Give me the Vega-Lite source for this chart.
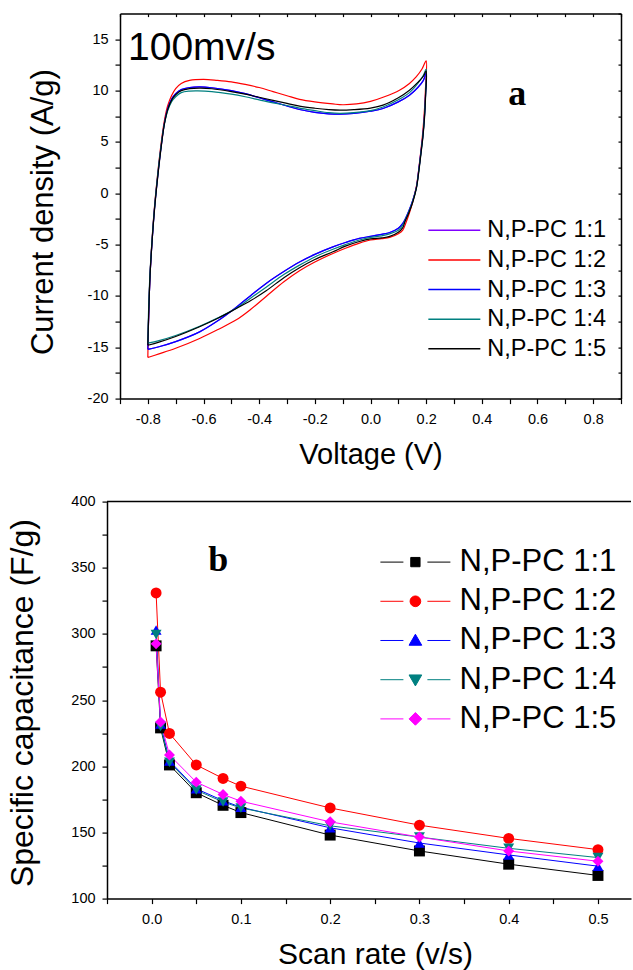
{
"$schema": "https://vega.github.io/schema/vega-lite/v6.json",
"background": "white",
"padding": {"left": 6, "top": 12.6, "right": 0, "bottom": 0},
"spacing": 24,
"bounds": "full",
"resolve": {"scale": {"color": "independent", "fill": "independent", "shape": "independent", "stroke": "independent"}, "legend": {"color": "independent", "fill": "independent", "shape": "independent", "stroke": "independent"}},
"config": {
  "font": "Liberation Sans",
  "view": {"stroke": null},
  "axis": {"grid": false, "domainColor": "black", "domainWidth": 1.5, "tickColor": "black", "tickWidth": 1.2, "labelColor": "black", "labelFontSize": 14.5, "labelFont": "Liberation Sans", "titleFont": "Liberation Sans", "titleFontWeight": "normal", "titleColor": "black", "labelFlush": false, "labelOverlap": false, "labelBound": false},
  "legend": {"labelFont": "Liberation Sans", "labelColor": "black"}
},
"vconcat": [
{
 "hconcat": [
 {
  "width": 13, "height": 20,
  "data": {"values": []},
  "mark": {"type": "point", "opacity": 0}
 },
 {
  "width": 501, "height": 385,
  "resolve": {"axis": {"x": "independent", "y": "independent"}},
  "layer": [
  {
    "data": {"values": [
{"s":"N,P-PC 1:1","v":-0.8,"c":-15.2},{"s":"N,P-PC 1:1","v":-0.797,"c":-12},{"s":"N,P-PC 1:1","v":-0.792,"c":-8},{"s":"N,P-PC 1:1","v":-0.785,"c":-4.8},{"s":"N,P-PC 1:1","v":-0.776,"c":-1.5},{"s":"N,P-PC 1:1","v":-0.764,"c":1.8},{"s":"N,P-PC 1:1","v":-0.752,"c":4.6},{"s":"N,P-PC 1:1","v":-0.74,"c":6.9},{"s":"N,P-PC 1:1","v":-0.728,"c":8.3},{"s":"N,P-PC 1:1","v":-0.714,"c":9.2},{"s":"N,P-PC 1:1","v":-0.7,"c":9.7},{"s":"N,P-PC 1:1","v":-0.68,"c":10.1},{"s":"N,P-PC 1:1","v":-0.65,"c":10.3},{"s":"N,P-PC 1:1","v":-0.614,"c":10.36},{"s":"N,P-PC 1:1","v":-0.57,"c":10.28},{"s":"N,P-PC 1:1","v":-0.5,"c":10},{"s":"N,P-PC 1:1","v":-0.45,"c":9.7},{"s":"N,P-PC 1:1","v":-0.4,"c":9.3},{"s":"N,P-PC 1:1","v":-0.35,"c":8.9},{"s":"N,P-PC 1:1","v":-0.3,"c":8.5},{"s":"N,P-PC 1:1","v":-0.255,"c":8.16},{"s":"N,P-PC 1:1","v":-0.2,"c":7.88},{"s":"N,P-PC 1:1","v":-0.15,"c":7.74},{"s":"N,P-PC 1:1","v":-0.11,"c":7.7},{"s":"N,P-PC 1:1","v":-0.06,"c":7.78},{"s":"N,P-PC 1:1","v":0,"c":8},{"s":"N,P-PC 1:1","v":0.045,"c":8.26},{"s":"N,P-PC 1:1","v":0.1,"c":8.9},{"s":"N,P-PC 1:1","v":0.14,"c":9.55},{"s":"N,P-PC 1:1","v":0.17,"c":10.3},{"s":"N,P-PC 1:1","v":0.19,"c":11},{"s":"N,P-PC 1:1","v":0.2,"c":11.7},
{"s":"N,P-PC 1:1","v":0.198,"c":9.8},{"s":"N,P-PC 1:1","v":0.194,"c":7.6},{"s":"N,P-PC 1:1","v":0.188,"c":5.6},{"s":"N,P-PC 1:1","v":0.182,"c":4.2},{"s":"N,P-PC 1:1","v":0.174,"c":2.4},{"s":"N,P-PC 1:1","v":0.165,"c":0.6},{"s":"N,P-PC 1:1","v":0.152,"c":-0.67},{"s":"N,P-PC 1:1","v":0.138,"c":-1.7},{"s":"N,P-PC 1:1","v":0.124,"c":-2.55},{"s":"N,P-PC 1:1","v":0.116,"c":-2.94},{"s":"N,P-PC 1:1","v":0.1,"c":-3.4},{"s":"N,P-PC 1:1","v":0.069,"c":-3.82},{"s":"N,P-PC 1:1","v":0.04,"c":-4},{"s":"N,P-PC 1:1","v":0,"c":-4.2},{"s":"N,P-PC 1:1","v":-0.04,"c":-4.4},{"s":"N,P-PC 1:1","v":-0.09,"c":-4.8},{"s":"N,P-PC 1:1","v":-0.135,"c":-5.22},{"s":"N,P-PC 1:1","v":-0.2,"c":-5.95},{"s":"N,P-PC 1:1","v":-0.255,"c":-6.7},{"s":"N,P-PC 1:1","v":-0.31,"c":-7.6},{"s":"N,P-PC 1:1","v":-0.375,"c":-8.78},{"s":"N,P-PC 1:1","v":-0.43,"c":-9.95},{"s":"N,P-PC 1:1","v":-0.482,"c":-11.1},{"s":"N,P-PC 1:1","v":-0.55,"c":-12.45},{"s":"N,P-PC 1:1","v":-0.614,"c":-13.5},{"s":"N,P-PC 1:1","v":-0.7,"c":-14.45},{"s":"N,P-PC 1:1","v":-0.76,"c":-14.95},{"s":"N,P-PC 1:1","v":-0.8,"c":-15.2},

{"s":"N,P-PC 1:2","v":-0.8,"c":-16},{"s":"N,P-PC 1:2","v":-0.798,"c":-13},{"s":"N,P-PC 1:2","v":-0.793,"c":-8.5},{"s":"N,P-PC 1:2","v":-0.786,"c":-5},{"s":"N,P-PC 1:2","v":-0.777,"c":-1.6},{"s":"N,P-PC 1:2","v":-0.765,"c":1.8},{"s":"N,P-PC 1:2","v":-0.753,"c":4.7},{"s":"N,P-PC 1:2","v":-0.741,"c":7},{"s":"N,P-PC 1:2","v":-0.729,"c":8.5},{"s":"N,P-PC 1:2","v":-0.715,"c":9.5},{"s":"N,P-PC 1:2","v":-0.7,"c":10.2},{"s":"N,P-PC 1:2","v":-0.68,"c":10.7},{"s":"N,P-PC 1:2","v":-0.65,"c":11},{"s":"N,P-PC 1:2","v":-0.6,"c":11.1},{"s":"N,P-PC 1:2","v":-0.55,"c":11},{"s":"N,P-PC 1:2","v":-0.5,"c":10.85},{"s":"N,P-PC 1:2","v":-0.45,"c":10.6},{"s":"N,P-PC 1:2","v":-0.4,"c":10.3},{"s":"N,P-PC 1:2","v":-0.35,"c":9.9},{"s":"N,P-PC 1:2","v":-0.3,"c":9.5},{"s":"N,P-PC 1:2","v":-0.255,"c":9.15},{"s":"N,P-PC 1:2","v":-0.2,"c":8.9},{"s":"N,P-PC 1:2","v":-0.135,"c":8.7},{"s":"N,P-PC 1:2","v":-0.1,"c":8.62},{"s":"N,P-PC 1:2","v":-0.05,"c":8.7},{"s":"N,P-PC 1:2","v":0,"c":8.95},{"s":"N,P-PC 1:2","v":0.05,"c":9.4},{"s":"N,P-PC 1:2","v":0.104,"c":10.04},{"s":"N,P-PC 1:2","v":0.14,"c":10.7},{"s":"N,P-PC 1:2","v":0.164,"c":11.33},{"s":"N,P-PC 1:2","v":0.185,"c":12.1},{"s":"N,P-PC 1:2","v":0.2,"c":12.9},
{"s":"N,P-PC 1:2","v":0.198,"c":10.5},{"s":"N,P-PC 1:2","v":0.194,"c":8.2},{"s":"N,P-PC 1:2","v":0.188,"c":6},{"s":"N,P-PC 1:2","v":0.182,"c":4.4},{"s":"N,P-PC 1:2","v":0.174,"c":2.5},{"s":"N,P-PC 1:2","v":0.165,"c":0.7},{"s":"N,P-PC 1:2","v":0.152,"c":-0.8},{"s":"N,P-PC 1:2","v":0.14,"c":-1.9},{"s":"N,P-PC 1:2","v":0.127,"c":-2.9},{"s":"N,P-PC 1:2","v":0.116,"c":-3.59},{"s":"N,P-PC 1:2","v":0.1,"c":-3.95},{"s":"N,P-PC 1:2","v":0.069,"c":-4.3},{"s":"N,P-PC 1:2","v":0.04,"c":-4.42},{"s":"N,P-PC 1:2","v":0,"c":-4.55},{"s":"N,P-PC 1:2","v":-0.04,"c":-4.85},{"s":"N,P-PC 1:2","v":-0.09,"c":-5.35},{"s":"N,P-PC 1:2","v":-0.135,"c":-5.86},{"s":"N,P-PC 1:2","v":-0.2,"c":-6.7},{"s":"N,P-PC 1:2","v":-0.255,"c":-7.55},{"s":"N,P-PC 1:2","v":-0.31,"c":-8.6},{"s":"N,P-PC 1:2","v":-0.375,"c":-10.05},{"s":"N,P-PC 1:2","v":-0.43,"c":-11.3},{"s":"N,P-PC 1:2","v":-0.482,"c":-12.33},{"s":"N,P-PC 1:2","v":-0.55,"c":-13.3},{"s":"N,P-PC 1:2","v":-0.614,"c":-14.14},{"s":"N,P-PC 1:2","v":-0.7,"c":-15.1},{"s":"N,P-PC 1:2","v":-0.76,"c":-15.65},{"s":"N,P-PC 1:2","v":-0.8,"c":-16},

{"s":"N,P-PC 1:3","v":-0.8,"c":-15.2},{"s":"N,P-PC 1:3","v":-0.797,"c":-12},{"s":"N,P-PC 1:3","v":-0.792,"c":-8},{"s":"N,P-PC 1:3","v":-0.785,"c":-4.8},{"s":"N,P-PC 1:3","v":-0.776,"c":-1.5},{"s":"N,P-PC 1:3","v":-0.764,"c":1.8},{"s":"N,P-PC 1:3","v":-0.752,"c":4.6},{"s":"N,P-PC 1:3","v":-0.74,"c":6.9},{"s":"N,P-PC 1:3","v":-0.728,"c":8.3},{"s":"N,P-PC 1:3","v":-0.714,"c":9.2},{"s":"N,P-PC 1:3","v":-0.7,"c":9.7},{"s":"N,P-PC 1:3","v":-0.68,"c":10.1},{"s":"N,P-PC 1:3","v":-0.65,"c":10.3},{"s":"N,P-PC 1:3","v":-0.614,"c":10.36},{"s":"N,P-PC 1:3","v":-0.57,"c":10.28},{"s":"N,P-PC 1:3","v":-0.5,"c":10},{"s":"N,P-PC 1:3","v":-0.45,"c":9.7},{"s":"N,P-PC 1:3","v":-0.4,"c":9.3},{"s":"N,P-PC 1:3","v":-0.35,"c":8.9},{"s":"N,P-PC 1:3","v":-0.3,"c":8.5},{"s":"N,P-PC 1:3","v":-0.255,"c":8.16},{"s":"N,P-PC 1:3","v":-0.2,"c":7.88},{"s":"N,P-PC 1:3","v":-0.15,"c":7.74},{"s":"N,P-PC 1:3","v":-0.11,"c":7.7},{"s":"N,P-PC 1:3","v":-0.06,"c":7.78},{"s":"N,P-PC 1:3","v":0,"c":8},{"s":"N,P-PC 1:3","v":0.045,"c":8.26},{"s":"N,P-PC 1:3","v":0.1,"c":8.9},{"s":"N,P-PC 1:3","v":0.14,"c":9.55},{"s":"N,P-PC 1:3","v":0.17,"c":10.3},{"s":"N,P-PC 1:3","v":0.19,"c":11},{"s":"N,P-PC 1:3","v":0.2,"c":11.7},
{"s":"N,P-PC 1:3","v":0.198,"c":9.8},{"s":"N,P-PC 1:3","v":0.194,"c":7.6},{"s":"N,P-PC 1:3","v":0.188,"c":5.6},{"s":"N,P-PC 1:3","v":0.182,"c":4.2},{"s":"N,P-PC 1:3","v":0.174,"c":2.4},{"s":"N,P-PC 1:3","v":0.165,"c":0.6},{"s":"N,P-PC 1:3","v":0.152,"c":-0.67},{"s":"N,P-PC 1:3","v":0.138,"c":-1.7},{"s":"N,P-PC 1:3","v":0.124,"c":-2.55},{"s":"N,P-PC 1:3","v":0.116,"c":-2.94},{"s":"N,P-PC 1:3","v":0.1,"c":-3.4},{"s":"N,P-PC 1:3","v":0.069,"c":-3.82},{"s":"N,P-PC 1:3","v":0.04,"c":-4},{"s":"N,P-PC 1:3","v":0,"c":-4.2},{"s":"N,P-PC 1:3","v":-0.04,"c":-4.4},{"s":"N,P-PC 1:3","v":-0.09,"c":-4.8},{"s":"N,P-PC 1:3","v":-0.135,"c":-5.22},{"s":"N,P-PC 1:3","v":-0.2,"c":-5.95},{"s":"N,P-PC 1:3","v":-0.255,"c":-6.7},{"s":"N,P-PC 1:3","v":-0.31,"c":-7.6},{"s":"N,P-PC 1:3","v":-0.375,"c":-8.78},{"s":"N,P-PC 1:3","v":-0.43,"c":-9.95},{"s":"N,P-PC 1:3","v":-0.482,"c":-11.1},{"s":"N,P-PC 1:3","v":-0.55,"c":-12.45},{"s":"N,P-PC 1:3","v":-0.614,"c":-13.5},{"s":"N,P-PC 1:3","v":-0.7,"c":-14.45},{"s":"N,P-PC 1:3","v":-0.76,"c":-14.95},{"s":"N,P-PC 1:3","v":-0.8,"c":-15.2},

{"s":"N,P-PC 1:4","v":-0.8,"c":-14.6},{"s":"N,P-PC 1:4","v":-0.798,"c":-12},{"s":"N,P-PC 1:4","v":-0.793,"c":-8.2},{"s":"N,P-PC 1:4","v":-0.786,"c":-5},{"s":"N,P-PC 1:4","v":-0.777,"c":-1.7},{"s":"N,P-PC 1:4","v":-0.765,"c":1.7},{"s":"N,P-PC 1:4","v":-0.753,"c":4.5},{"s":"N,P-PC 1:4","v":-0.741,"c":6.7},{"s":"N,P-PC 1:4","v":-0.729,"c":8},{"s":"N,P-PC 1:4","v":-0.715,"c":8.9},{"s":"N,P-PC 1:4","v":-0.7,"c":9.4},{"s":"N,P-PC 1:4","v":-0.68,"c":9.8},{"s":"N,P-PC 1:4","v":-0.65,"c":9.95},{"s":"N,P-PC 1:4","v":-0.62,"c":9.97},{"s":"N,P-PC 1:4","v":-0.57,"c":9.9},{"s":"N,P-PC 1:4","v":-0.5,"c":9.65},{"s":"N,P-PC 1:4","v":-0.45,"c":9.4},{"s":"N,P-PC 1:4","v":-0.4,"c":9.1},{"s":"N,P-PC 1:4","v":-0.35,"c":8.8},{"s":"N,P-PC 1:4","v":-0.3,"c":8.55},{"s":"N,P-PC 1:4","v":-0.255,"c":8.29},{"s":"N,P-PC 1:4","v":-0.2,"c":8.05},{"s":"N,P-PC 1:4","v":-0.15,"c":7.85},{"s":"N,P-PC 1:4","v":-0.11,"c":7.78},{"s":"N,P-PC 1:4","v":-0.06,"c":7.85},{"s":"N,P-PC 1:4","v":0,"c":8.05},{"s":"N,P-PC 1:4","v":0.045,"c":8.4},{"s":"N,P-PC 1:4","v":0.1,"c":9.1},{"s":"N,P-PC 1:4","v":0.14,"c":9.8},{"s":"N,P-PC 1:4","v":0.17,"c":10.7},{"s":"N,P-PC 1:4","v":0.19,"c":11.5},{"s":"N,P-PC 1:4","v":0.2,"c":12.1},
{"s":"N,P-PC 1:4","v":0.198,"c":9.7},{"s":"N,P-PC 1:4","v":0.194,"c":7.5},{"s":"N,P-PC 1:4","v":0.188,"c":5.5},{"s":"N,P-PC 1:4","v":0.182,"c":4.1},{"s":"N,P-PC 1:4","v":0.174,"c":2.3},{"s":"N,P-PC 1:4","v":0.165,"c":0.55},{"s":"N,P-PC 1:4","v":0.152,"c":-0.75},{"s":"N,P-PC 1:4","v":0.138,"c":-1.8},{"s":"N,P-PC 1:4","v":0.124,"c":-2.65},{"s":"N,P-PC 1:4","v":0.116,"c":-3.1},{"s":"N,P-PC 1:4","v":0.1,"c":-3.6},{"s":"N,P-PC 1:4","v":0.069,"c":-3.95},{"s":"N,P-PC 1:4","v":0.04,"c":-4.15},{"s":"N,P-PC 1:4","v":0,"c":-4.3},{"s":"N,P-PC 1:4","v":-0.04,"c":-4.55},{"s":"N,P-PC 1:4","v":-0.09,"c":-5},{"s":"N,P-PC 1:4","v":-0.135,"c":-5.45},{"s":"N,P-PC 1:4","v":-0.2,"c":-6.2},{"s":"N,P-PC 1:4","v":-0.255,"c":-7},{"s":"N,P-PC 1:4","v":-0.31,"c":-7.9},{"s":"N,P-PC 1:4","v":-0.375,"c":-9.15},{"s":"N,P-PC 1:4","v":-0.43,"c":-10.2},{"s":"N,P-PC 1:4","v":-0.482,"c":-11.2},{"s":"N,P-PC 1:4","v":-0.55,"c":-12.15},{"s":"N,P-PC 1:4","v":-0.614,"c":-12.95},{"s":"N,P-PC 1:4","v":-0.7,"c":-13.85},{"s":"N,P-PC 1:4","v":-0.76,"c":-14.35},{"s":"N,P-PC 1:4","v":-0.8,"c":-14.6},

{"s":"N,P-PC 1:5","v":-0.8,"c":-14.8},{"s":"N,P-PC 1:5","v":-0.797,"c":-11.8},{"s":"N,P-PC 1:5","v":-0.792,"c":-8},{"s":"N,P-PC 1:5","v":-0.785,"c":-4.8},{"s":"N,P-PC 1:5","v":-0.776,"c":-1.6},{"s":"N,P-PC 1:5","v":-0.764,"c":1.7},{"s":"N,P-PC 1:5","v":-0.752,"c":4.5},{"s":"N,P-PC 1:5","v":-0.74,"c":6.8},{"s":"N,P-PC 1:5","v":-0.728,"c":8.2},{"s":"N,P-PC 1:5","v":-0.714,"c":9.1},{"s":"N,P-PC 1:5","v":-0.7,"c":9.6},{"s":"N,P-PC 1:5","v":-0.68,"c":10},{"s":"N,P-PC 1:5","v":-0.65,"c":10.2},{"s":"N,P-PC 1:5","v":-0.61,"c":10.25},{"s":"N,P-PC 1:5","v":-0.57,"c":10.18},{"s":"N,P-PC 1:5","v":-0.5,"c":9.9},{"s":"N,P-PC 1:5","v":-0.45,"c":9.65},{"s":"N,P-PC 1:5","v":-0.4,"c":9.35},{"s":"N,P-PC 1:5","v":-0.35,"c":9.05},{"s":"N,P-PC 1:5","v":-0.3,"c":8.75},{"s":"N,P-PC 1:5","v":-0.255,"c":8.48},{"s":"N,P-PC 1:5","v":-0.2,"c":8.28},{"s":"N,P-PC 1:5","v":-0.15,"c":8.15},{"s":"N,P-PC 1:5","v":-0.11,"c":8.1},{"s":"N,P-PC 1:5","v":-0.06,"c":8.15},{"s":"N,P-PC 1:5","v":0,"c":8.3},{"s":"N,P-PC 1:5","v":0.045,"c":8.58},{"s":"N,P-PC 1:5","v":0.1,"c":9.3},{"s":"N,P-PC 1:5","v":0.14,"c":10.04},{"s":"N,P-PC 1:5","v":0.17,"c":10.8},{"s":"N,P-PC 1:5","v":0.19,"c":11.4},{"s":"N,P-PC 1:5","v":0.2,"c":11.9},
{"s":"N,P-PC 1:5","v":0.198,"c":9.5},{"s":"N,P-PC 1:5","v":0.194,"c":7.3},{"s":"N,P-PC 1:5","v":0.188,"c":5.4},{"s":"N,P-PC 1:5","v":0.182,"c":4},{"s":"N,P-PC 1:5","v":0.174,"c":2.2},{"s":"N,P-PC 1:5","v":0.165,"c":0.5},{"s":"N,P-PC 1:5","v":0.152,"c":-0.85},{"s":"N,P-PC 1:5","v":0.138,"c":-1.9},{"s":"N,P-PC 1:5","v":0.124,"c":-2.75},{"s":"N,P-PC 1:5","v":0.116,"c":-3.35},{"s":"N,P-PC 1:5","v":0.1,"c":-3.8},{"s":"N,P-PC 1:5","v":0.069,"c":-4.2},{"s":"N,P-PC 1:5","v":0.04,"c":-4.35},{"s":"N,P-PC 1:5","v":0,"c":-4.45},{"s":"N,P-PC 1:5","v":-0.04,"c":-4.7},{"s":"N,P-PC 1:5","v":-0.09,"c":-5.15},{"s":"N,P-PC 1:5","v":-0.135,"c":-5.7},{"s":"N,P-PC 1:5","v":-0.2,"c":-6.45},{"s":"N,P-PC 1:5","v":-0.255,"c":-7.25},{"s":"N,P-PC 1:5","v":-0.31,"c":-8.2},{"s":"N,P-PC 1:5","v":-0.375,"c":-9.5},{"s":"N,P-PC 1:5","v":-0.43,"c":-10.45},{"s":"N,P-PC 1:5","v":-0.482,"c":-11.22},{"s":"N,P-PC 1:5","v":-0.55,"c":-12.2},{"s":"N,P-PC 1:5","v":-0.614,"c":-13},{"s":"N,P-PC 1:5","v":-0.7,"c":-13.95},{"s":"N,P-PC 1:5","v":-0.76,"c":-14.5},{"s":"N,P-PC 1:5","v":-0.8,"c":-14.8}
    ]},
    "mark": {"type": "line", "interpolate": "catmull-rom", "strokeWidth": 1.2},
    "encoding": {
      "x": {"field": "v", "type": "quantitative", "scale": {"domain": [-0.9, 0.9], "nice": false, "zero": false},
            "axis": {"orient": "bottom", "title": "Voltage (V)", "values": [-0.9,-0.8,-0.7,-0.6,-0.5,-0.4,-0.3,-0.2,-0.1,0,0.1,0.2,0.3,0.4,0.5,0.6,0.7,0.8,0.9],
                     "labelExpr": "abs(round(datum.value*10)) % 2 === 0 ? (datum.value < -0.001 ? '-' : '') + format(abs(datum.value), '.1f') : ''",
                     "tickSize": 5, "labelPadding": 9, "titleFontSize": 29, "titlePadding": 14}},
      "y": {"field": "c", "type": "quantitative", "scale": {"domain": [-20, 17.5], "nice": false, "zero": false},
            "axis": {"orient": "left", "title": "Current density (A/g)", "values": [-20,-17.5,-15,-12.5,-10,-7.5,-5,-2.5,0,2.5,5,7.5,10,12.5,15],
                     "labelExpr": "datum.value % 5 === 0 ? (datum.value < 0 ? '-' : '') + format(abs(datum.value), 'd') : ''",
                     "tickSize": 5, "labelPadding": 7, "titleFontSize": 31, "titlePadding": 27.5, "titleY": 198}},
      "color": {"field": "s", "type": "nominal",
                "scale": {"domain": ["N,P-PC 1:1","N,P-PC 1:2","N,P-PC 1:3","N,P-PC 1:4","N,P-PC 1:5"], "range": ["#8000ff","#ff0000","#0000ff","#008080","#000000"]},
                "legend": {"orient": "none", "legendX": 335.6, "legendY": 205, "title": null, "symbolType": "M-5.2,0H5.2", "symbolSize": 100, "symbolStrokeWidth": 1.5, "labelFontSize": 23.5, "labelOffset": 21.2, "rowPadding": 4.6, "padding": 0, "labelLimit": 400}},
      "order": {"value": null}
    }
  },
  {
    "data": {"values": [{"t": "100mv/s", "v": -0.871, "c": 12.95}]},
    "mark": {"type": "text", "align": "left", "baseline": "alphabetic", "fontSize": 39, "font": "Liberation Sans", "color": "black"},
    "encoding": {
      "x": {"field": "v", "type": "quantitative", "axis": {"orient": "top", "title": null, "labels": false, "tickSize": -3, "values": [-0.9,-0.8,-0.7,-0.6,-0.5,-0.4,-0.3,-0.2,-0.1,0,0.1,0.2,0.3,0.4,0.5,0.6,0.7,0.8,0.9]}},
      "y": {"field": "c", "type": "quantitative", "axis": {"orient": "right", "title": null, "labels": false, "tickSize": -3, "values": [-20,-17.5,-15,-12.5,-10,-7.5,-5,-2.5,0,2.5,5,7.5,10,12.5,15,17.5]}},
      "text": {"field": "t"}
    }
  },
  {
    "data": {"values": [{"t": "a", "v": 0.527, "c": 8.64}]},
    "mark": {"type": "text", "align": "center", "baseline": "alphabetic", "fontSize": 36, "font": "Liberation Serif", "fontWeight": "bold", "color": "black"},
    "encoding": {
      "x": {"field": "v", "type": "quantitative", "axis": null},
      "y": {"field": "c", "type": "quantitative", "axis": null},
      "text": {"field": "t"}
    }
  }
  ]
 }
 ],
 "spacing": 0,
 "bounds": "flush"
},
{
  "width": 524, "height": 397,
  "resolve": {"axis": {"x": "independent", "y": "independent"}, "scale": {"shape": "independent", "fill": "independent", "stroke": "independent"}},
  "data": {"values": [
{"s":"N,P-PC 1:1","x":0.005,"y":291},{"s":"N,P-PC 1:1","x":0.01,"y":229},{"s":"N,P-PC 1:1","x":0.02,"y":201},{"s":"N,P-PC 1:1","x":0.05,"y":180},{"s":"N,P-PC 1:1","x":0.08,"y":170.5},{"s":"N,P-PC 1:1","x":0.1,"y":165},{"s":"N,P-PC 1:1","x":0.2,"y":148},{"s":"N,P-PC 1:1","x":0.3,"y":136},{"s":"N,P-PC 1:1","x":0.4,"y":126},{"s":"N,P-PC 1:1","x":0.5,"y":117.5},
{"s":"N,P-PC 1:2","x":0.005,"y":331},{"s":"N,P-PC 1:2","x":0.01,"y":256},{"s":"N,P-PC 1:2","x":0.02,"y":224.8},{"s":"N,P-PC 1:2","x":0.05,"y":201},{"s":"N,P-PC 1:2","x":0.08,"y":190.8},{"s":"N,P-PC 1:2","x":0.1,"y":185},{"s":"N,P-PC 1:2","x":0.2,"y":168.5},{"s":"N,P-PC 1:2","x":0.3,"y":155.5},{"s":"N,P-PC 1:2","x":0.4,"y":145.5},{"s":"N,P-PC 1:2","x":0.5,"y":137},
{"s":"N,P-PC 1:3","x":0.005,"y":303},{"s":"N,P-PC 1:3","x":0.01,"y":232},{"s":"N,P-PC 1:3","x":0.02,"y":204},{"s":"N,P-PC 1:3","x":0.05,"y":183},{"s":"N,P-PC 1:3","x":0.08,"y":174},{"s":"N,P-PC 1:3","x":0.1,"y":169},{"s":"N,P-PC 1:3","x":0.2,"y":153.5},{"s":"N,P-PC 1:3","x":0.3,"y":142},{"s":"N,P-PC 1:3","x":0.4,"y":133},{"s":"N,P-PC 1:3","x":0.5,"y":124.5},
{"s":"N,P-PC 1:4","x":0.005,"y":299.5},{"s":"N,P-PC 1:4","x":0.01,"y":230},{"s":"N,P-PC 1:4","x":0.02,"y":203},{"s":"N,P-PC 1:4","x":0.05,"y":182},{"s":"N,P-PC 1:4","x":0.08,"y":173},{"s":"N,P-PC 1:4","x":0.1,"y":168.5},{"s":"N,P-PC 1:4","x":0.2,"y":155},{"s":"N,P-PC 1:4","x":0.3,"y":146.5},{"s":"N,P-PC 1:4","x":0.4,"y":138},{"s":"N,P-PC 1:4","x":0.5,"y":131},
{"s":"N,P-PC 1:5","x":0.005,"y":292.5},{"s":"N,P-PC 1:5","x":0.01,"y":233.5},{"s":"N,P-PC 1:5","x":0.02,"y":208.5},{"s":"N,P-PC 1:5","x":0.05,"y":188},{"s":"N,P-PC 1:5","x":0.08,"y":178.7},{"s":"N,P-PC 1:5","x":0.1,"y":173.6},{"s":"N,P-PC 1:5","x":0.2,"y":158},{"s":"N,P-PC 1:5","x":0.3,"y":146.5},{"s":"N,P-PC 1:5","x":0.4,"y":136},{"s":"N,P-PC 1:5","x":0.5,"y":128.2}
  ]},
  "layer": [
  {
    "data": {"values": [{}]},
    "mark": {"type": "rule", "color": "black", "strokeWidth": 1.5},
    "encoding": {"y": {"datum": 400, "type": "quantitative", "scale": {"domain": [100, 400], "nice": false, "zero": false}, "axis": null}}
  },
  {
    "mark": {"type": "line", "strokeWidth": 1},
    "encoding": {
      "x": {"field": "x", "type": "quantitative", "scale": {"domain": [-0.05, 0.537], "nice": false, "zero": false},
            "axis": {"orient": "bottom", "title": "Scan rate (v/s)", "values": [-0.05,0,0.05,0.1,0.15,0.2,0.25,0.3,0.35,0.4,0.45,0.5],
                     "labelExpr": "abs(round(datum.value*100)) % 10 === 0 ? format(datum.value, '.1f') : ''",
                     "tickSize": 5, "labelPadding": 9, "titleFontSize": 30, "titlePadding": 13, "titleX": 268}},
      "y": {"field": "y", "type": "quantitative", "scale": {"domain": [100, 400], "nice": false, "zero": false},
            "axis": {"orient": "left", "title": "Specific capacitance (F/g)", "values": [100,125,150,175,200,225,250,275,300,325,350,375,400],
                     "labelExpr": "datum.value % 50 === 0 ? format(datum.value, 'd') : ''",
                     "tickSize": 5, "labelPadding": 7, "titleFontSize": 32, "titlePadding": 31, "titleY": 201}},
      "color": {"field": "s", "type": "nominal",
                "scale": {"domain": ["N,P-PC 1:1","N,P-PC 1:2","N,P-PC 1:3","N,P-PC 1:4","N,P-PC 1:5"], "range": ["#000000","#ff0000","#0000ff","#008080","#ff00ff"]},
                "legend": null}
    }
  },
  {
    "mark": {"type": "point", "filled": true, "size": 120, "opacity": 1},
    "encoding": {
      "x": {"field": "x", "type": "quantitative", "axis": null},
      "y": {"field": "y", "type": "quantitative", "axis": null},
      "color": {"field": "s", "type": "nominal", "legend": null},
      "shape": {"field": "s", "type": "nominal", "scale": {"range": ["square","circle","triangle-up","triangle-down","diamond"]}, "legend": null}
    }
  },
  {
    "data": {"values": []},
    "mark": {"type": "point", "filled": true, "size": 100, "opacity": 1, "strokeWidth": 1},
    "encoding": {
      "x": {"field": "x", "type": "quantitative", "axis": null},
      "y": {"field": "y", "type": "quantitative", "axis": null},
      "fill": {"field": "s", "type": "nominal",
               "scale": {"domain": ["N,P-PC 1:1","N,P-PC 1:2","N,P-PC 1:3","N,P-PC 1:4","N,P-PC 1:5"], "range": ["#000000","#ff0000","#0000ff","#008080","#ff00ff"]},
               "legend": {"orient": "none", "legendX": 292.9, "legendY": 45, "title": null, "symbolSize": 100, "symbolStrokeWidth": 1, "symbolOpacity": 1, "labelFontSize": 31, "labelOffset": 28.7, "rowPadding": 7.2, "padding": 0, "labelLimit": 400}},
      "stroke": {"field": "s", "type": "nominal",
               "scale": {"domain": ["N,P-PC 1:1","N,P-PC 1:2","N,P-PC 1:3","N,P-PC 1:4","N,P-PC 1:5"], "range": ["#000000","#ff0000","#0000ff","#008080","#ff00ff"]},
               "legend": {"orient": "none", "legendX": 292.9, "legendY": 45, "title": null, "symbolSize": 100, "symbolStrokeWidth": 1, "symbolOpacity": 1, "labelFontSize": 31, "labelOffset": 28.7, "rowPadding": 7.2, "padding": 0, "labelLimit": 400}},
      "shape": {"field": "s", "type": "nominal",
               "scale": {"domain": ["N,P-PC 1:1","N,P-PC 1:2","N,P-PC 1:3","N,P-PC 1:4","N,P-PC 1:5"],
                         "range": ["M-7,0H-2.4M2.4,0H7M-0.93,-0.93H0.93V0.93H-0.93Z",
                                   "M-7,0H-2.4M2.4,0H7M-1.07,0A1.07,1.07,0,1,0,1.07,0A1.07,1.07,0,1,0,-1.07,0Z",
                                   "M-7,0H-2.4M2.4,0H7M0,-1.25L1.27,0.95L-1.27,0.95Z",
                                   "M-7,0H-2.4M2.4,0H7M0,1.25L1.27,-0.95L-1.27,-0.95Z",
                                   "M-7,0H-2.4M2.4,0H7M0,-1.27L1.27,0L0,1.27L-1.27,0Z"]},
               "legend": {"orient": "none", "legendX": 292.9, "legendY": 45, "title": null, "symbolSize": 100, "symbolStrokeWidth": 1, "symbolOpacity": 1, "labelFontSize": 31, "labelOffset": 28.7, "rowPadding": 7.2, "padding": 0, "labelLimit": 400}}
    }
  },
  {
    "data": {"values": [{"t": "b", "x": 0.0745, "y": 347.6}]},
    "mark": {"type": "text", "align": "center", "baseline": "alphabetic", "fontSize": 36, "font": "Liberation Serif", "fontWeight": "bold", "color": "black"},
    "encoding": {
      "x": {"field": "x", "type": "quantitative", "axis": null},
      "y": {"field": "y", "type": "quantitative", "axis": null},
      "text": {"field": "t"}
    }
  }
  ]
}
]
}
